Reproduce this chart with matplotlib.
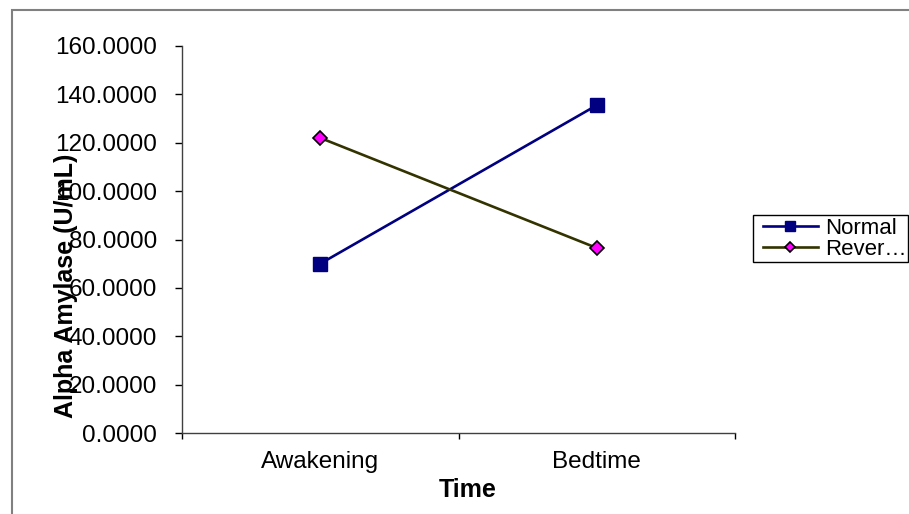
import numpy as np
import matplotlib.pyplot as plt
from matplotlib.patches import Rectangle

# Chart data
times = ["Awakening", "Bedtime"]
normal = [70.0, 135.5]
reversed_vals = [122.0, 76.5]
legend_labels = ["Normal", "Rever\u2026"]
y_ticks = [0, 20, 40, 60, 80, 100, 120, 140, 160]

plt.rcParams['font.family'] = ['Liberation Sans', 'DejaVu Sans']

W, H = 909, 514
fig = plt.figure(figsize=(W / 100, H / 100), dpi=100)

# Outer chart-area border (only left and top visible)
fig.patches.append(Rectangle((12 / W, -0.1), 2, 1.1 - 10 / H,
                             transform=fig.transFigure, fill=False,
                             edgecolor='#808080', linewidth=1.5))

ax = fig.add_axes([182 / W, 1 - 433 / H, 553 / W, 387 / H])

x = np.arange(len(times)) + 0.5
ax.plot(x, normal, color='#000080', linewidth=1.9, marker='s', markersize=10.5,
        markerfacecolor='#000080', markeredgecolor='#000080', label=legend_labels[0])
ax.plot(x, reversed_vals, color='#333300', linewidth=1.9, marker='D', markersize=7.5,
        markerfacecolor='#FF00FF', markeredgecolor='black', markeredgewidth=1.2,
        label=legend_labels[1])

ax.set_xlim(0, len(times))
ax.set_ylim(0, 160)
ax.set_yticks(y_ticks)
ax.set_yticklabels(["%.4f" % v for v in y_ticks])

ax.set_xticks(np.arange(len(times) + 1))
ax.set_xticklabels([])
ax.set_xticks(x, minor=True)
ax.set_xticklabels(times, minor=True)

ax.tick_params(axis='y', direction='out', length=5, width=1, pad=13, labelsize=17.5)
ax.tick_params(axis='x', which='major', direction='out', length=4, width=1)
ax.tick_params(axis='x', which='minor', length=0, pad=13, labelsize=17.5)

for side in ['top', 'right']:
    ax.spines[side].set_visible(False)
for side in ['left', 'bottom']:
    ax.spines[side].set_color('#404040')
    ax.spines[side].set_linewidth(1)

fig.text(66 / W, 1 - 286 / H, "Alpha Amylase (U/mL)", rotation=90,
         ha='center', va='center', fontsize=18, fontweight='bold')
fig.text(468 / W, 1 - 490 / H, "Time", ha='center', va='center',
         fontsize=18, fontweight='bold')

# legend entries without frame, frame drawn separately
leg = fig.legend(loc='upper left', bbox_to_anchor=(760 / W, 1 - 215 / H),
                 fontsize=16, frameon=False, handlelength=2.5, handletextpad=0.3,
                 labelspacing=0.0, borderpad=0.12, borderaxespad=0,
                 markerscale=0.7)
fig.patches.append(Rectangle((753 / W, 1 - 262 / H), 155 / W, 47 / H,
                             transform=fig.transFigure, fill=False,
                             edgecolor='black', linewidth=1))

fig.savefig("out.png", dpi=100)
